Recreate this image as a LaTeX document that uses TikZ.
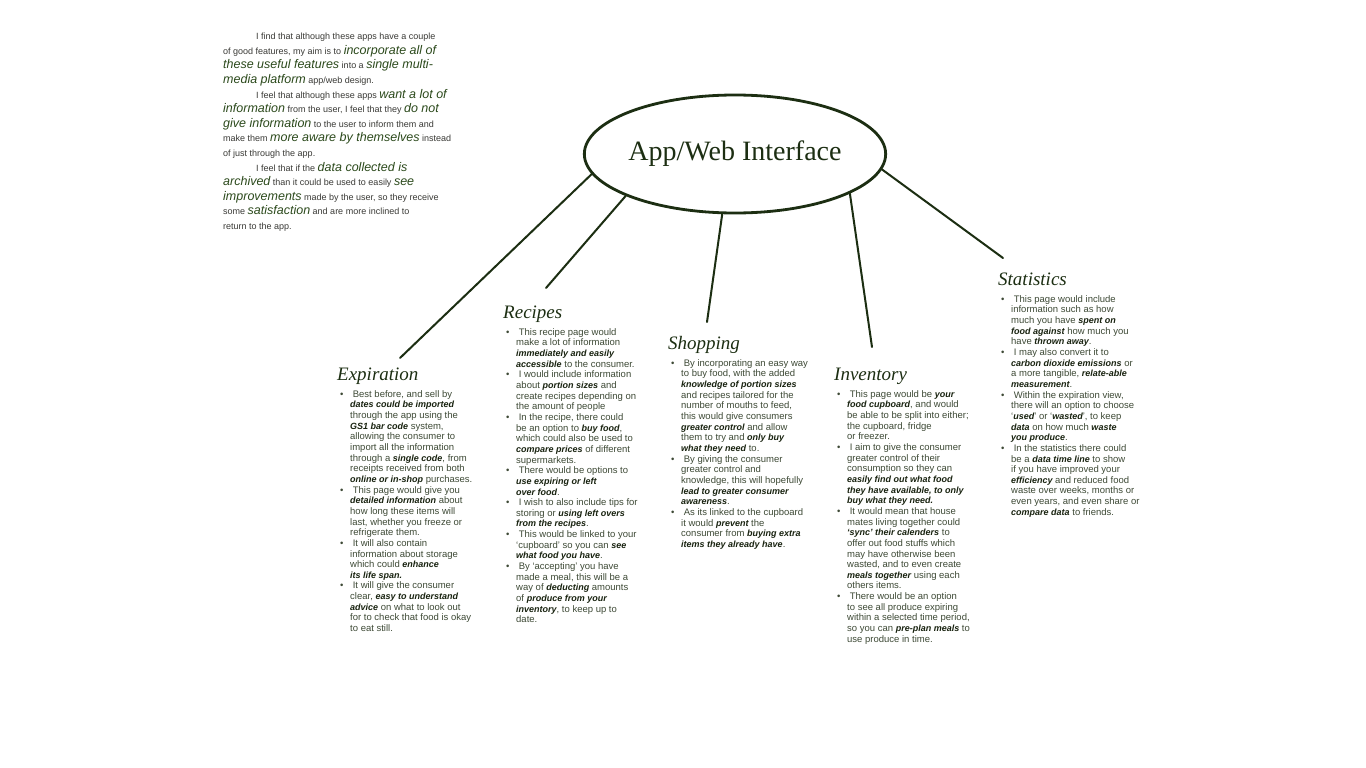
\documentclass[tikz,border=0pt]{standalone}
\usepackage{fontspec}
\setmainfont{Liberation Serif}
\setsansfont{Liberation Sans}
\usetikzlibrary{positioning,shapes.geometric}

\definecolor{inkgreen}{HTML}{1C2E12}
\definecolor{bodyink}{HTML}{3E4A36}
\definecolor{boldink}{HTML}{18220F}
\definecolor{introink}{HTML}{3A3A36}
\definecolor{introgreen}{HTML}{2C4A1C}

\newcommand\blt{\makebox[10pt][l]{\textbullet}}
\newcommand\cnt{\hspace*{10pt}}
\newcommand\bi[1]{{\color{boldink}\fontsize{9}{10.65}\selectfont\bfseries\itshape#1}}
\newcommand\hl[1]{{\color{introgreen}\fontsize{12.5}{14.6}\selectfont\itshape#1}}

\begin{document}
\begin{tikzpicture}[x=1pt,y=-1pt,
  hub/.style={ellipse,draw=inkgreen,line width=2.8pt,minimum width=300pt,minimum height=118pt,inner sep=0pt,font=\fontsize{28}{30}\selectfont,text=inkgreen},
  hd/.style={anchor=base west,inner sep=0pt,text depth=4pt,font=\fontsize{19}{22}\selectfont\itshape,text=inkgreen},
  lst/.style={align=left,inner sep=0pt,font=\sffamily\fontsize{9.5}{10.65}\selectfont,text=bodyink},
  intro/.style={align=left,inner sep=0pt,font=\sffamily\fontsize{9}{14.6}\selectfont,text=introink},
  spoke/.style={draw=inkgreen,line width=2pt,line cap=round}
]
\path[fill=white,use as bounding box] (0,0) rectangle (1366,768);

% intro text
\node[intro,anchor=north west] (intro) at (223,33) {%
\hspace*{33pt}I find that although these apps have a couple\\
of good features, my aim is to \hl{incorporate all of}\\
\hl{these useful features} into a \hl{single multi-}\\
\hl{media platform} app/web design.\\
\hspace*{33pt}I feel that although these apps \hl{want a lot of}\\
\hl{information} from the user, I feel that they \hl{do not}\\
\hl{give information} to the user to inform them and\\
make them \hl{more aware by themselves} instead\\
of just through the app.\\
\hspace*{33pt}I feel that if the \hl{data collected is}\\
\hl{archived} than it could be used to easily \hl{see}\\
\hl{improvements} made by the user, so they receive\\
some \hl{satisfaction} and are more inclined to\\
return to the app.};

% centre
\node[hub] (hub) at (735,154) {App/Web Interface};

% headings
\node[hd] (exphd) at (337,380) {Expiration};
\node[hd] (rechd) at (503,318) {Recipes};
\node[hd] (shphd) at (668,349) {Shopping};
\node[hd] (invhd) at (834,380) {Inventory};
\node[hd] (stshd) at (998,285) {Statistics};

% spokes
\coordinate (expend) at (400,358);
\coordinate (recend) at (546,288);
\coordinate (shpend) at (707,322);
\coordinate (invend) at (872,347);
\coordinate (stsend) at (1003,258);
\draw[spoke] (hub.188) -- (expend);
\draw[spoke] (hub.201) -- (recend);
\draw[spoke] (hub.258) -- (shpend);
\draw[spoke] (hub.341) -- (invend);
\draw[spoke] (hub.354) -- (stsend);

% lists
\node[lst,below right=6pt and 3pt of exphd.south west] (explst) {%
\blt\ Best before, and sell by\\
\cnt\bi{dates could be imported}\\
\cnt through the app using the\\
\cnt\bi{GS1 bar code} system,\\
\cnt allowing the consumer to\\
\cnt import all the information\\
\cnt through a \bi{single code}, from\\
\cnt receipts received from both\\
\cnt\bi{online or in-shop} purchases.\\
\blt\ This page would give you\\
\cnt\bi{detailed information} about\\
\cnt how long these items will\\
\cnt last, whether you freeze or\\
\cnt refrigerate them.\\
\blt\ It will also contain\\
\cnt information about storage\\
\cnt which could \bi{enhance}\\
\cnt\bi{its life span.}\\
\blt\ It will give the consumer\\
\cnt clear, \bi{easy to understand}\\
\cnt\bi{advice} on what to look out\\
\cnt for to check that food is okay\\
\cnt to eat still.};

\node[lst,below right=6pt and 3pt of rechd.south west] (reclst) {%
\blt\ This recipe page would\\
\cnt make a lot of information\\
\cnt\bi{immediately and easily}\\
\cnt\bi{accessible} to the consumer.\\
\blt\ I would include information\\
\cnt about \bi{portion sizes} and\\
\cnt create recipes depending on\\
\cnt the amount of people\\
\blt\ In the recipe, there could\\
\cnt be an option to \bi{buy food},\\
\cnt which could also be used to\\
\cnt\bi{compare prices} of different\\
\cnt supermarkets.\\
\blt\ There would be options to\\
\cnt\bi{use expiring or left}\\
\cnt\bi{over food}.\\
\blt\ I wish to also include tips for\\
\cnt storing or \bi{using left overs}\\
\cnt\bi{from the recipes}.\\
\blt\ This would be linked to your\\
\cnt `cupboard' so you can \bi{see}\\
\cnt\bi{what food you have}.\\
\blt\ By `accepting' you have\\
\cnt made a meal, this will be a\\
\cnt way of \bi{deducting} amounts\\
\cnt of \bi{produce from your}\\
\cnt\bi{inventory}, to keep up to\\
\cnt date.};

\node[lst,below right=6pt and 3pt of shphd.south west] (shplst) {%
\blt\ By incorporating an easy way\\
\cnt to buy food, with the added\\
\cnt\bi{knowledge of portion sizes}\\
\cnt and recipes tailored for the\\
\cnt number of mouths to feed,\\
\cnt this would give consumers\\
\cnt\bi{greater control} and allow\\
\cnt them to try and \bi{only buy}\\
\cnt\bi{what they need} to.\\
\blt\ By giving the consumer\\
\cnt greater control and\\
\cnt knowledge, this will hopefully\\
\cnt\bi{lead to greater consumer}\\
\cnt\bi{awareness}.\\
\blt\ As its linked to the cupboard\\
\cnt it would \bi{prevent} the\\
\cnt consumer from \bi{buying extra}\\
\cnt\bi{items they already have}.};

\node[lst,below right=6pt and 3pt of invhd.south west] (invlst) {%
\blt\ This page would be \bi{your}\\
\cnt\bi{food cupboard}, and would\\
\cnt be able to be split into either;\\
\cnt the cupboard, fridge\\
\cnt or freezer.\\
\blt\ I aim to give the consumer\\
\cnt greater control of their\\
\cnt consumption so they can\\
\cnt\bi{easily find out what food}\\
\cnt\bi{they have available, to only}\\
\cnt\bi{buy what they need.}\\
\blt\ It would mean that house\\
\cnt mates living together could\\
\cnt\bi{`sync' their calenders} to\\
\cnt offer out food stuffs which\\
\cnt may have otherwise been\\
\cnt wasted, and to even create\\
\cnt\bi{meals together} using each\\
\cnt others items.\\
\blt\ There would be an option\\
\cnt to see all produce expiring\\
\cnt within a selected time period,\\
\cnt so you can \bi{pre-plan meals} to\\
\cnt use produce in time.};

\node[lst,below right=6pt and 3pt of stshd.south west] (stslst) {%
\blt\ This page would include\\
\cnt information such as how\\
\cnt much you have \bi{spent on}\\
\cnt\bi{food against} how much you\\
\cnt have \bi{thrown away}.\\
\blt\ I may also convert it to\\
\cnt\bi{carbon dioxide emissions} or\\
\cnt a more tangible, \bi{relate-able}\\
\cnt\bi{measurement}.\\
\blt\ Within the expiration view,\\
\cnt there will an option to choose\\
\cnt `\bi{used}' or `\bi{wasted}', to keep\\
\cnt\bi{data} on how much \bi{waste}\\
\cnt\bi{you produce}.\\
\blt\ In the statistics there could\\
\cnt be a \bi{data time line} to show\\
\cnt if you have improved your\\
\cnt\bi{efficiency} and reduced food\\
\cnt waste over weeks, months or\\
\cnt even years, and even share or\\
\cnt\bi{compare data} to friends.};
\end{tikzpicture}
\end{document}
